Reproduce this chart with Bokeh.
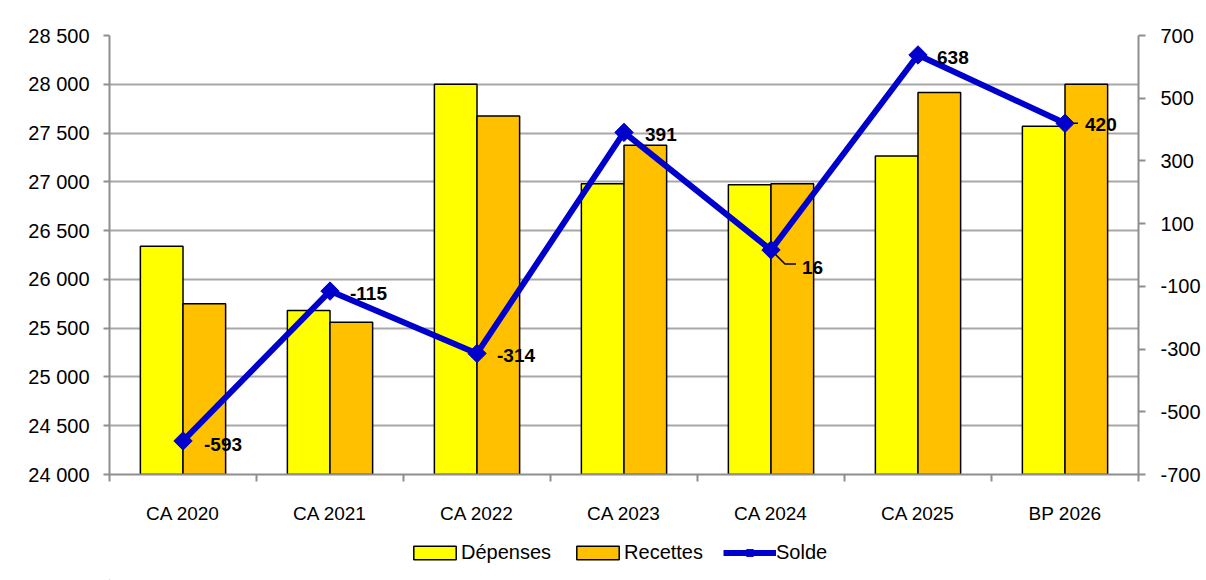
import numpy as np
from bokeh.plotting import figure
from bokeh.layouts import column
from bokeh.models import (Range1d, LinearAxis, FixedTicker, Grid, Legend, LegendItem,
                          ColumnDataSource)
from bokeh.core.properties import value
from bokeh.embed import file_html
from bokeh.resources import INLINE

# ---- data ----
categories = ["CA 2020", "CA 2021", "CA 2022", "CA 2023", "CA 2024", "CA 2025", "BP 2026"]
depenses = [26340, 25680, 28000, 26980, 26970, 27265, 27570]
recettes = [25750, 25560, 27675, 27375, 26980, 27915, 28000]
solde = [-593, -115, -314, 391, 16, 638, 420]
left_ticks = [24000, 24500, 25000, 25500, 26000, 26500, 27000, 27500, 28000, 28500]
right_ticks = [-700, -500, -300, -100, 100, 300, 500, 700]
series_names = ["Dépenses", "Recettes", "Solde"]

# ---- styles ----
FONT = "Liberation Sans"
YELLOW = "#FFFF00"
ORANGE = "#FFC000"
BLUE = "#0000CC"
GRAY = "#8e8e8e"
GRID = "#a8a8a8"
label_dx = [21, 20, 20, 21, 31, 19, 20]
label_dy = [4, 2, 2, 2, 18, 3, 1]
# leader lines (pixel offsets from the point; screen y goes down)
leaders = {4: [(0, 0), (14, 14), (25, 14)], 6: [(2, 0), (13, 0)]}

W, H = 1206, 526
BL, BR, BT, BB = 109, 68, 35, 50

n = len(categories)
xc = np.arange(n) + 0.5
bar_w = 0.29

p = figure(width=W, height=H, output_backend="svg", toolbar_location=None,
           x_range=Range1d(0, n), y_range=Range1d(left_ticks[0], left_ticks[-1]),
           min_border_left=BL, min_border_right=BR, min_border_top=BT,
           min_border_bottom=BB, x_axis_type=None, y_axis_type=None)
p.extra_y_ranges = {"solde": Range1d(right_ticks[0], right_ticks[-1])}
p.outline_line_color = None
p.background_fill_color = "white"
p.border_fill_color = "white"

p.add_layout(Grid(dimension=1, ticker=FixedTicker(ticks=left_ticks),
                  grid_line_color=GRID, grid_line_width=2))

def style_axis(ax):
    ax.axis_line_color = GRAY
    ax.axis_line_width = 2
    ax.major_tick_line_color = GRAY
    ax.major_tick_line_width = 2
    ax.minor_tick_line_color = GRAY
    ax.minor_tick_line_width = 2
    ax.major_tick_in = 0
    ax.minor_tick_in = 0
    ax.major_label_text_font = FONT
    ax.major_label_text_font_size = "19px"
    ax.major_label_text_color = "black"

yl = LinearAxis(ticker=FixedTicker(ticks=left_ticks),
                major_label_overrides={t: f"{t:,}".replace(",", " ") for t in left_ticks})
style_axis(yl)
yl.major_label_text_font_size = "20px"
yl.major_tick_out = 6
yl.major_label_standoff = 14
p.add_layout(yl, "left")

yr = LinearAxis(y_range_name="solde", ticker=FixedTicker(ticks=right_ticks),
                major_label_overrides={t: str(t) for t in right_ticks})
style_axis(yr)
yr.major_label_text_font_size = "20px"
yr.major_tick_out = 7
yr.major_label_standoff = 15
p.add_layout(yr, "right")

xa = LinearAxis(ticker=FixedTicker(ticks=list(xc), minor_ticks=list(range(n + 1))),
                major_label_overrides={float(x): c for x, c in zip(xc, categories)})
style_axis(xa)
xa.major_tick_out = 0
xa.minor_tick_out = 7
xa.major_label_standoff = 21
p.add_layout(xa, "below")

src = ColumnDataSource(dict(x=xc, dep=depenses, rec=recettes, solde=solde,
                            lab=[str(s) for s in solde], dx=label_dx, dy=label_dy))

p.vbar(x=xc - bar_w / 2, top=depenses, bottom=left_ticks[0], width=bar_w,
       fill_color=YELLOW, line_color="black", line_width=1.5)
p.vbar(x=xc + bar_w / 2, top=recettes, bottom=left_ticks[0], width=bar_w,
       fill_color=ORANGE, line_color="black", line_width=1.5)

# leader lines, converted from pixel offsets to data units
ux = n / (W - BL - BR)
uy = (right_ticks[-1] - right_ticks[0]) / (H - BT - BB)
lx, ly = [], []
for i, pts in leaders.items():
    lx.append([xc[i] + dx * ux for dx, dy in pts])
    ly.append([solde[i] - dy * uy for dx, dy in pts])
p.multi_line(lx, ly, y_range_name="solde", line_color="black", line_width=1.5)

p.line("x", "solde", source=src, y_range_name="solde", line_color=BLUE, line_width=6)
p.scatter("x", "solde", source=src, y_range_name="solde", marker="square",
          angle=np.pi / 4, size=13, fill_color=BLUE, line_color=BLUE)
p.text("x", "solde", text="lab", source=src, y_range_name="solde",
       x_offset="dx", y_offset="dy", text_font=value(FONT), text_font_style="bold",
       text_font_size="19px", text_baseline="middle", text_align="left",
       text_color="black")

# ---- legend strip (separate small figure under the chart) ----
lf = figure(width=W, height=580 - H, output_backend="svg", toolbar_location=None,
            x_range=Range1d(0, 1), y_range=Range1d(0, 1), min_border=0,
            x_axis_type=None, y_axis_type=None)
lf.outline_line_color = None
lf.grid.visible = False
# one hidden sample per series (outside the visible range) so that the
# legend has something to draw its swatches from
hid = [-50]
l_dep = lf.vbar(x=hid, top=hid, width=0.1, fill_color=YELLOW, line_color="black",
                line_width=1.5)
l_rec = lf.vbar(x=hid, top=hid, width=0.1, fill_color=ORANGE, line_color="black",
                line_width=1.5)
l_line = lf.line(x=hid, y=hid, line_color=BLUE, line_width=6)
l_mark = lf.scatter(x=hid, y=hid, marker="square", angle=np.pi / 4, size=13,
                    fill_color=BLUE, line_color=BLUE)
legend = Legend(items=[LegendItem(label=series_names[0], renderers=[l_dep]),
                       LegendItem(label=series_names[1], renderers=[l_rec]),
                       LegendItem(label=series_names[2], renderers=[l_line, l_mark])],
                orientation="horizontal", location=(299, 16),
                label_text_font=FONT, label_text_font_size="20px",
                label_text_color="black",
                glyph_width=53, glyph_height=17, label_standoff=0, spacing=20,
                border_line_color=None, background_fill_alpha=0, margin=0, padding=4)
lf.add_layout(legend, "center")

layout = column(p, lf, spacing=0)
open("out.html", "w").write(file_html(layout, INLINE))
